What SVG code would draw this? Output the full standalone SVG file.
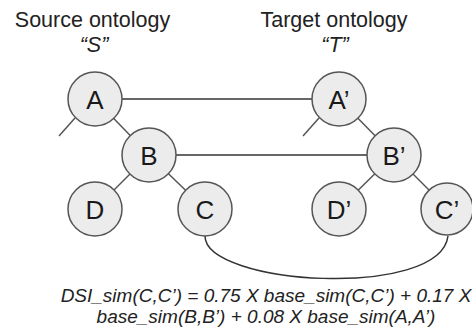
<svg xmlns="http://www.w3.org/2000/svg" width="472" height="329" viewBox="0 0 472 329">
<style>
.node circle{fill:#ececec;stroke:#555;stroke-width:1.5}
.node text{font-family:"Liberation Sans",Arial,sans-serif;font-size:26px;fill:#1a1a1a;text-anchor:middle}
.edge{stroke:#555;stroke-width:1.5;fill:none}
.link{stroke:#333;stroke-width:1.5;fill:none}
.title{font-family:"Liberation Sans",Arial,sans-serif;font-size:21.5px;fill:#222;text-anchor:middle}
.ital{font-family:"Liberation Sans",Arial,sans-serif;font-style:italic;fill:#222;text-anchor:middle}
</style>
<rect width="472" height="329" fill="#fff"/>
<text class="title" x="92.5" y="27">Source ontology</text>
<text class="ital" x="94" y="52" font-size="21.5">“S”</text>
<text class="title" x="334" y="27">Target ontology</text>
<text class="ital" x="335" y="52" font-size="21.5">“T”</text>
<g id="connectors">
<line class="edge" x1="75" y1="118" x2="59" y2="136"/>
<line class="edge" x1="319" y1="118" x2="303" y2="136"/>
<line class="edge" x1="95" y1="99" x2="149" y2="155"/>
<line class="edge" x1="339" y1="99" x2="394" y2="155"/>
<line class="edge" x1="149" y1="155" x2="95" y2="209"/>
<line class="edge" x1="149" y1="155" x2="205" y2="209"/>
<line class="edge" x1="394" y1="155" x2="339" y2="209"/>
<line class="edge" x1="394" y1="155" x2="448" y2="209"/>
<line class="link" x1="122" y1="99" x2="312" y2="99"/>
<line class="link" x1="176" y1="155" x2="367" y2="155"/>
<path class="link" d="M205,236 C205,285 440,300 448,236"/>
</g>
<g id="A" class="node"><circle cx="95" cy="99" r="27"/><text x="95" y="108.5">A</text></g>
<g id="B" class="node"><circle cx="149" cy="155" r="27"/><text x="149" y="164.5">B</text></g>
<g id="D" class="node"><circle cx="95" cy="209" r="27"/><text x="95" y="218.5">D</text></g>
<g id="C" class="node"><circle cx="205" cy="209" r="27"/><text x="205" y="218.5">C</text></g>
<g id="A2" class="node"><circle cx="339" cy="99" r="27"/><text x="339" y="108.5">A’</text></g>
<g id="B2" class="node"><circle cx="394" cy="155" r="27"/><text x="394" y="164.5">B’</text></g>
<g id="D2" class="node"><circle cx="339" cy="209" r="27"/><text x="339" y="218.5">D’</text></g>
<g id="C2" class="node"><circle cx="447" cy="209" r="26"/><text x="447" y="218.5">C’</text></g>
<text class="ital" x="266" y="302" font-size="19">DSI_sim(C,C’) = 0.75 X base_sim(C,C’) + 0.17 X</text>
<text class="ital" x="266" y="323" font-size="19">base_sim(B,B’) + 0.08 X base_sim(A,A’)</text>
</svg>
